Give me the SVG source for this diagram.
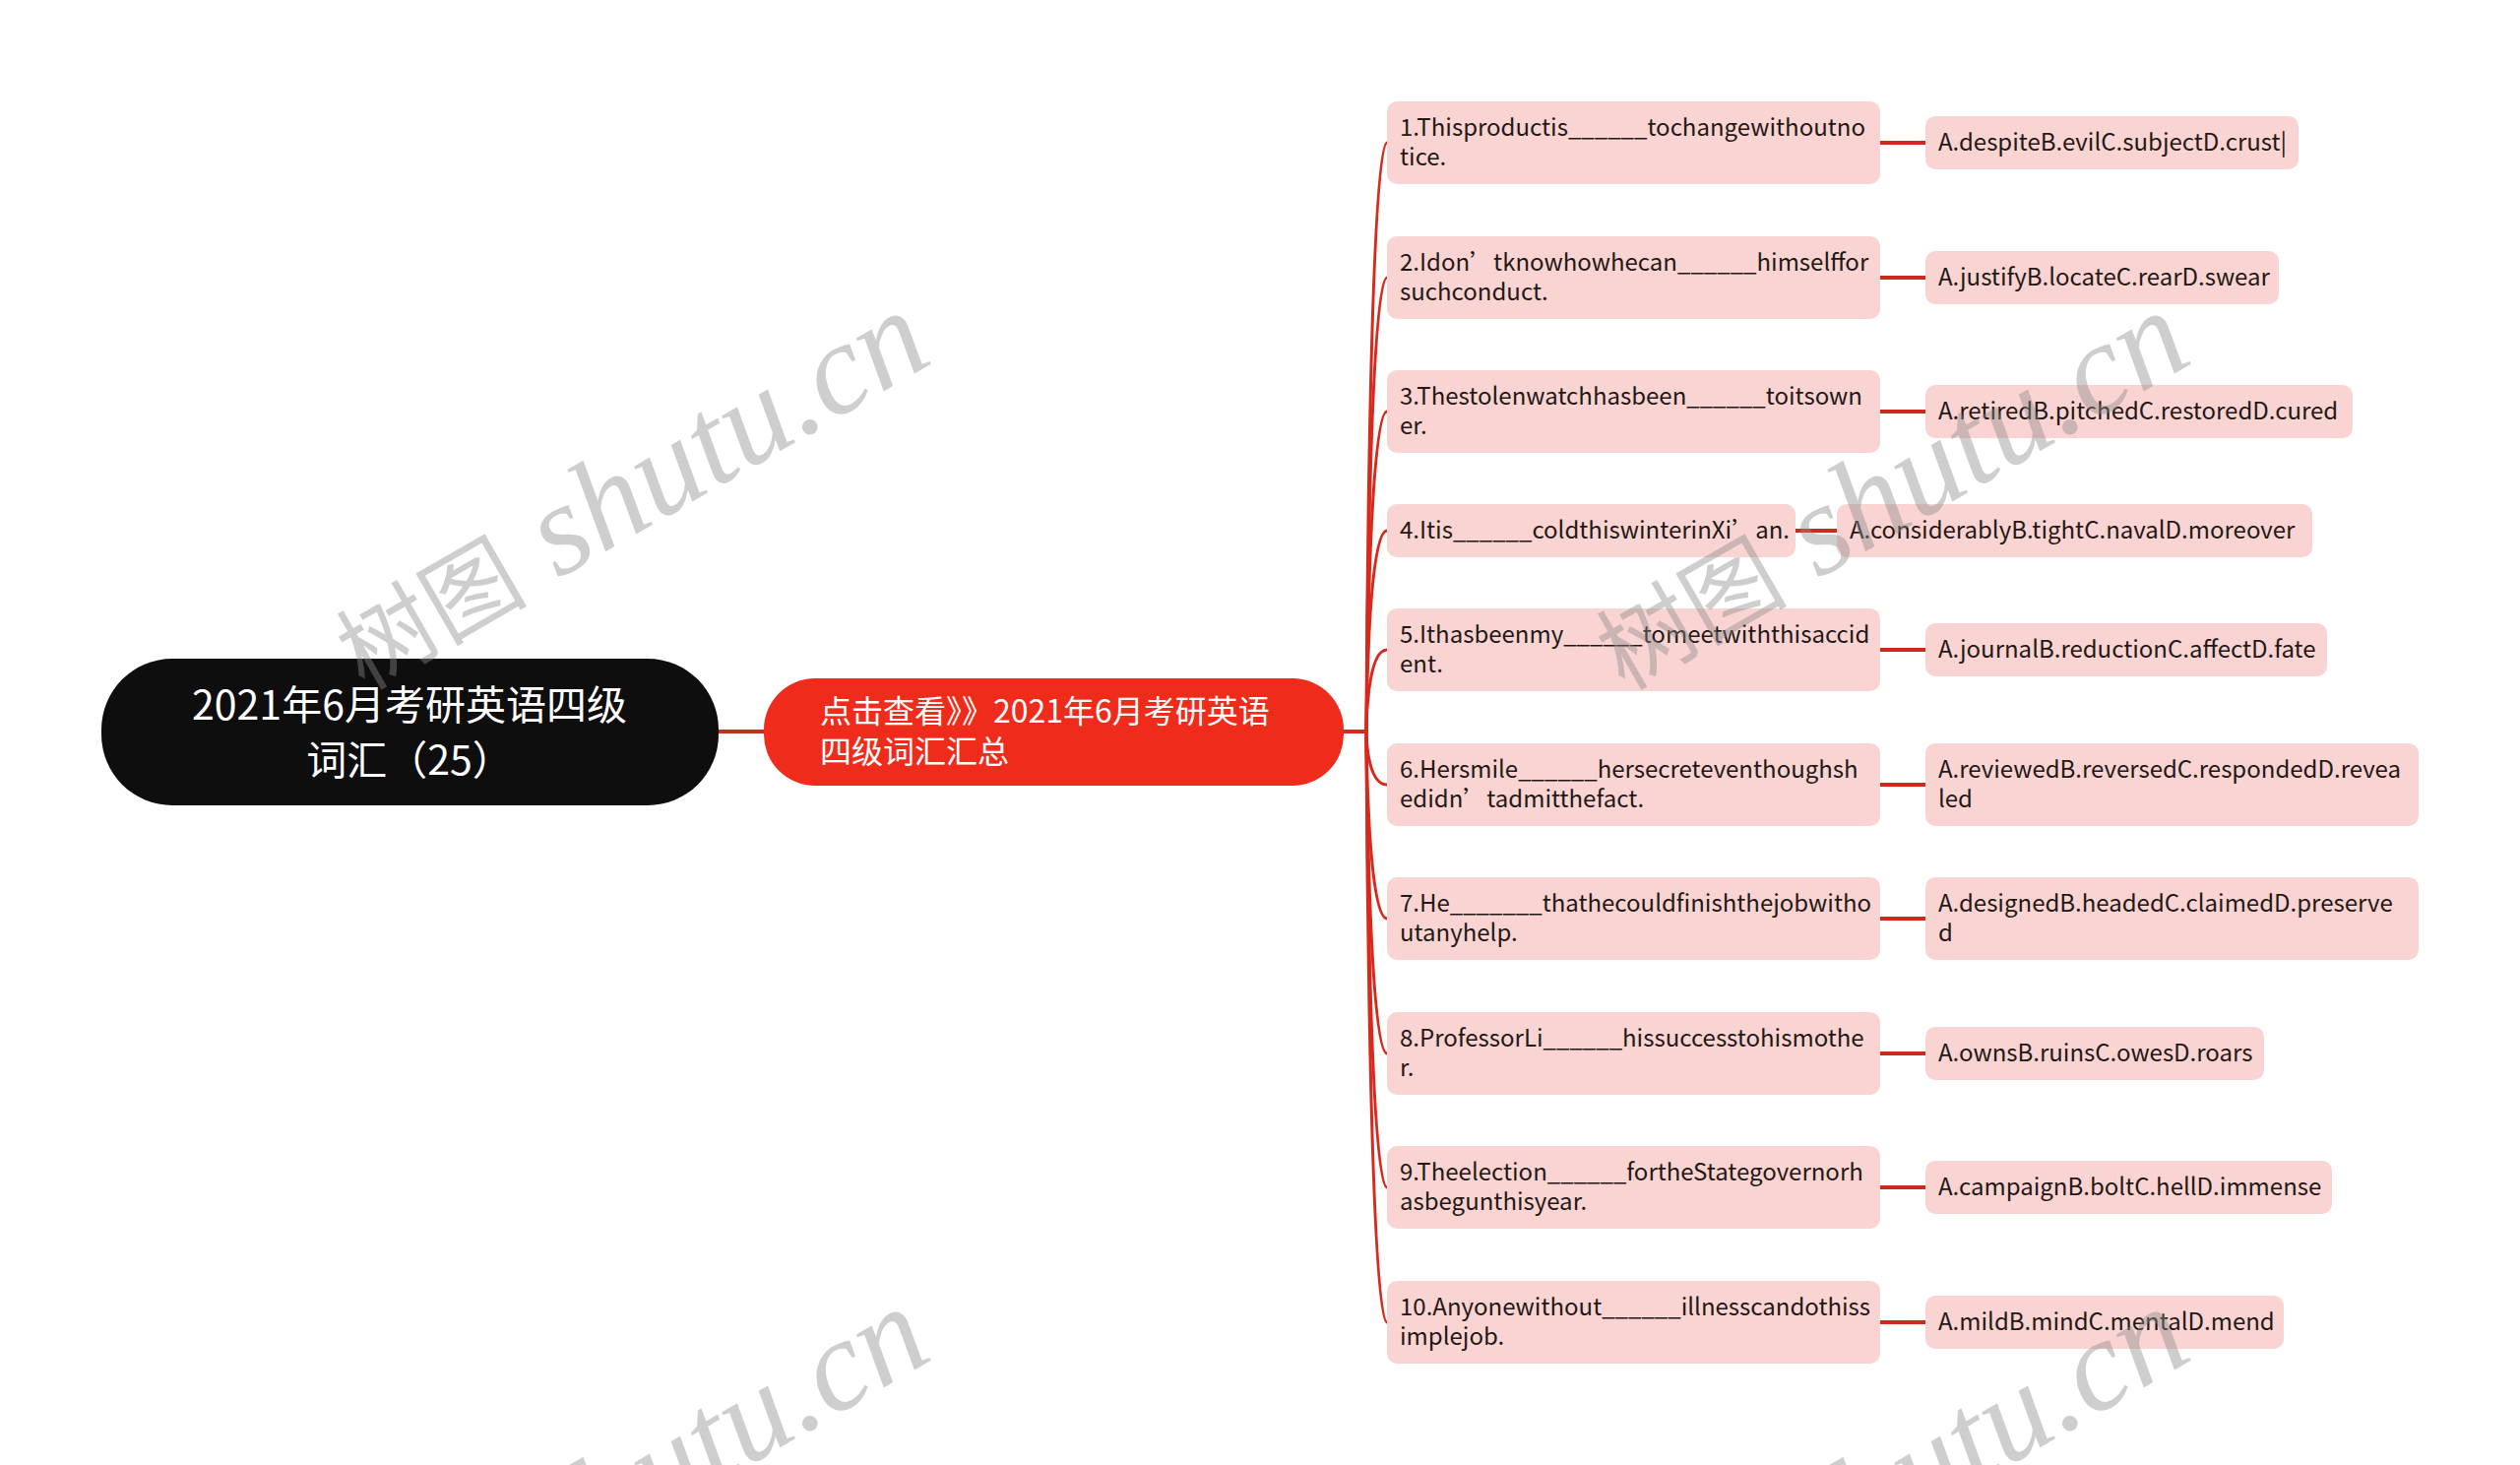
<svg xmlns="http://www.w3.org/2000/svg" width="2560" height="1488" viewBox="0 0 2560 1488">
<style>
.pn{fill:#FAD4D2}
.t{font-family:"Noto Sans CJK SC","Noto Sans",sans-serif;font-size:24px;fill:#231815}
.c{fill:none;stroke:#D8291D;stroke-width:3}
.ca{fill:none;stroke:#D0281D;stroke-width:4}
.wm{fill:#8a8a8a;fill-opacity:0.42}
.wcj{font-family:"Noto Sans CJK SC",sans-serif;font-size:97px}
.wla{font-family:"Liberation Serif",serif;font-style:italic;font-size:132px}
</style>
<rect width="2560" height="1488" fill="#FFFFFF"/>
<g id="connectors">
<path d="M730,743 H776" fill="none" stroke="#C4301F" stroke-width="4"/>
<path class="c" d="M1365,743 H1388 C1388,743 1390,145 1409,145"/>
<path class="c" d="M1365,743 H1388 C1388,743 1390,282 1409,282"/>
<path class="c" d="M1365,743 H1388 C1388,743 1390,418 1409,418"/>
<path class="c" d="M1365,743 H1388 C1388,743 1389,539 1409,539"/>
<path class="c" d="M1365,743 H1388 C1388,743 1388,660 1409,660"/>
<path class="c" d="M1365,743 H1388 C1388,743 1388,797 1409,797"/>
<path class="c" d="M1365,743 H1388 C1388,743 1389,933 1409,933"/>
<path class="c" d="M1365,743 H1388 C1388,743 1390,1070 1409,1070"/>
<path class="c" d="M1365,743 H1388 C1388,743 1390,1206 1409,1206"/>
<path class="c" d="M1365,743 H1388 C1388,743 1390,1343 1409,1343"/>
<path class="ca" d="M1910,145 H1956"/>
<path class="ca" d="M1910,282 H1956"/>
<path class="ca" d="M1910,418 H1956"/>
<path class="ca" d="M1824,539 H1866"/>
<path class="ca" d="M1910,660 H1956"/>
<path class="ca" d="M1910,797 H1956"/>
<path class="ca" d="M1910,933 H1956"/>
<path class="ca" d="M1910,1070 H1956"/>
<path class="ca" d="M1910,1206 H1956"/>
<path class="ca" d="M1910,1343 H1956"/>
</g>
<g id="root">
<rect x="103" y="669" width="627" height="149" rx="72" fill="#0E0E0E"/>
<text x="416" y="731" text-anchor="middle" font-family="Noto Sans CJK SC,sans-serif" font-size="41" fill="#FFFFFF">2021年6月考研英语四级</text>
<text x="416" y="787" text-anchor="middle" font-family="Noto Sans CJK SC,sans-serif" font-size="41" fill="#FFFFFF">词汇（25）</text>
</g>
<g id="summary">
<rect x="776" y="689" width="589" height="109" rx="52" fill="#EF2B1C"/>
<text x="833" y="734" font-family="Noto Sans CJK SC,sans-serif" font-size="32" fill="#FFFFFF">点击查看》》2021年6月考研英语</text>
<text x="833" y="775" font-family="Noto Sans CJK SC,sans-serif" font-size="32" fill="#FFFFFF">四级词汇汇总</text>
</g>
<g id="q1"><rect class="pn" x="1409" y="103" width="501" height="84" rx="10"/><text class="t" x="1422" y="138">1.Thisproductis______tochangewithoutno</text><text class="t" x="1422" y="168">tice.</text></g>
<g id="a1"><rect class="pn" x="1956" y="118" width="379" height="54" rx="10"/><text class="t" x="1969" y="153">A.despiteB.evilC.subjectD.crust|</text></g>
<g id="q2"><rect class="pn" x="1409" y="240" width="501" height="84" rx="10"/><text class="t" x="1422" y="275">2.Idon’tknowhowhecan______himselffor</text><text class="t" x="1422" y="305">suchconduct.</text></g>
<g id="a2"><rect class="pn" x="1956" y="255" width="359" height="54" rx="10"/><text class="t" x="1969" y="290">A.justifyB.locateC.rearD.swear</text></g>
<g id="q3"><rect class="pn" x="1409" y="376" width="501" height="84" rx="10"/><text class="t" x="1422" y="411">3.Thestolenwatchhasbeen______toitsown</text><text class="t" x="1422" y="441">er.</text></g>
<g id="a3"><rect class="pn" x="1956" y="391" width="434" height="54" rx="10"/><text class="t" x="1969" y="426">A.retiredB.pitchedC.restoredD.cured</text></g>
<g id="q4"><rect class="pn" x="1409" y="512" width="415" height="54" rx="10"/><text class="t" x="1422" y="547">4.Itis______coldthiswinterinXi’an.</text></g>
<g id="a4"><rect class="pn" x="1866" y="512" width="483" height="54" rx="10"/><text class="t" x="1879" y="547">A.considerablyB.tightC.navalD.moreover</text></g>
<g id="q5"><rect class="pn" x="1409" y="618" width="501" height="84" rx="10"/><text class="t" x="1422" y="653">5.Ithasbeenmy______tomeetwiththisaccid</text><text class="t" x="1422" y="683">ent.</text></g>
<g id="a5"><rect class="pn" x="1956" y="633" width="408" height="54" rx="10"/><text class="t" x="1969" y="668">A.journalB.reductionC.affectD.fate</text></g>
<g id="q6"><rect class="pn" x="1409" y="755" width="501" height="84" rx="10"/><text class="t" x="1422" y="790">6.Hersmile______hersecreteventhoughsh</text><text class="t" x="1422" y="820">edidn’tadmitthefact.</text></g>
<g id="a6"><rect class="pn" x="1956" y="755" width="501" height="84" rx="10"/><text class="t" x="1969" y="790">A.reviewedB.reversedC.respondedD.revea</text><text class="t" x="1969" y="820">led</text></g>
<g id="q7"><rect class="pn" x="1409" y="891" width="501" height="84" rx="10"/><text class="t" x="1422" y="926">7.He_______thathecouldfinishthejobwitho</text><text class="t" x="1422" y="956">utanyhelp.</text></g>
<g id="a7"><rect class="pn" x="1956" y="891" width="501" height="84" rx="10"/><text class="t" x="1969" y="926">A.designedB.headedC.claimedD.preserve</text><text class="t" x="1969" y="956">d</text></g>
<g id="q8"><rect class="pn" x="1409" y="1028" width="501" height="84" rx="10"/><text class="t" x="1422" y="1063">8.ProfessorLi______hissuccesstohismothe</text><text class="t" x="1422" y="1093">r.</text></g>
<g id="a8"><rect class="pn" x="1956" y="1043" width="344" height="54" rx="10"/><text class="t" x="1969" y="1078">A.ownsB.ruinsC.owesD.roars</text></g>
<g id="q9"><rect class="pn" x="1409" y="1164" width="501" height="84" rx="10"/><text class="t" x="1422" y="1199">9.Theelection______fortheStategovernorh</text><text class="t" x="1422" y="1229">asbegunthisyear.</text></g>
<g id="a9"><rect class="pn" x="1956" y="1179" width="413" height="54" rx="10"/><text class="t" x="1969" y="1214">A.campaignB.boltC.hellD.immense</text></g>
<g id="q10"><rect class="pn" x="1409" y="1301" width="501" height="84" rx="10"/><text class="t" x="1422" y="1336">10.Anyonewithout______illnesscandothiss</text><text class="t" x="1422" y="1366">implejob.</text></g>
<g id="a10"><rect class="pn" x="1956" y="1316" width="364" height="54" rx="10"/><text class="t" x="1969" y="1351">A.mildB.mindC.mentalD.mend</text></g>
<g id="watermarks" class="wm">
<text transform="translate(370,702) rotate(-30)"><tspan class="wcj">树图</tspan><tspan class="wla"> shutu.cn</tspan></text>
<text transform="translate(1650,702) rotate(-30)"><tspan class="wcj">树图</tspan><tspan class="wla"> shutu.cn</tspan></text>
<text transform="translate(370,1714) rotate(-30)"><tspan class="wcj">树图</tspan><tspan class="wla"> shutu.cn</tspan></text>
<text transform="translate(1650,1714) rotate(-30)"><tspan class="wcj">树图</tspan><tspan class="wla"> shutu.cn</tspan></text>
</g>
</svg>
